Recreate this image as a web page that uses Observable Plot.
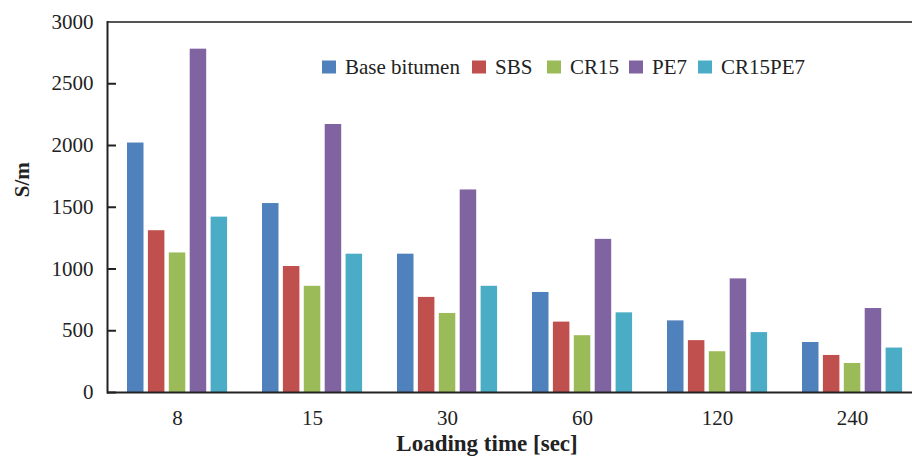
<!DOCTYPE html>
<html><head><meta charset="utf-8">
<script src="https://cdn.jsdelivr.net/npm/d3@7"></script>
<script src="https://cdn.jsdelivr.net/npm/@observablehq/plot@0.6"></script>
<style>
html,body{margin:0;padding:0;background:#fff;overflow:hidden}
#wrap{position:relative;width:912px;height:456px}
</style></head>
<body><div id="wrap"></div>
<script>
const groups = ["8", "15", "30", "60", "120", "240"];
const series = ["Base bitumen", "SBS", "CR15", "PE7", "CR15PE7"];
const colors = ["#4F81BD", "#C0504D", "#9BBB59", "#8064A2", "#4BACC6"];
const baseBitumen = [2020, 1530, 1120, 810, 580, 405];
const sbs = [1310, 1020, 770, 570, 420, 300];
const cr15 = [1130, 860, 640, 460, 330, 235];
const pe7 = [2780, 2170, 1640, 1240, 920, 680];
const cr15pe7 = [1420, 1120, 860, 645, 485, 360];
const yTicks = [0, 500, 1000, 1500, 2000, 2500, 3000];

const seriesValues = [baseBitumen, sbs, cr15, pe7, cr15pe7];
const table = series.map((s, i) => groups.map((g, j) => ({group: g, series: s, value: seriesValues[i][j]})));

const FONT = "'Liberation Serif', 'Times New Roman', serif";
const W = 912, H = 456, ML = 107, MB = 64, MT = 21.5;
const step = 135.6, pIn = 0.2625;
const band = step * (1 - pIn);      // group band width
const barStep = 20.9, barW = 16.5;  // sub-band layout inside group

const barMarks = table.map((rows, i) => Plot.barY(rows, {
  x: "group", y: "value", fill: colors[i],
  insetLeft: i * barStep,
  insetRight: band - i * barStep - barW
}));

const chart = Plot.plot({
  width: W, height: H,
  marginLeft: ML, marginRight: 0, marginTop: MT, marginBottom: MB,
  style: {fontFamily: FONT, fontSize: "21px", color: "#222", background: "#fff"},
  x: {type: "band", domain: groups, range: [ML, ML + step * groups.length], paddingInner: pIn, paddingOuter: pIn / 2, axis: null},
  y: {domain: [0, 3000], axis: null},
  marks: [
    ...barMarks,
    Plot.axisX(groups, {tickSize: 0, tickPadding: 18, label: null, fontSize: 21}),
    Plot.axisY(yTicks, {tickSize: -9, tickPadding: 23, strokeWidth: 2, label: null, fontSize: 21, tickFormat: d3.format("d")}),
    Plot.ruleY([3000], {stroke: "#555", strokeWidth: 2}),
    Plot.ruleY([0], {stroke: "#222", strokeWidth: 2}),
    Plot.frame({anchor: "left", stroke: "#222", strokeWidth: 2}),
    Plot.text(["S/m"], {frameAnchor: "left", dx: -85, dy: -10, rotate: -90, fontWeight: "bold", fontSize: 21, fill: "#222"}),
    Plot.text(["Loading time [sec]"], {frameAnchor: "bottom", dx: -23, dy: 58, fontWeight: "bold", fontSize: 23, fill: "#222"})
  ]
});

document.getElementById("wrap").appendChild(chart);

// legend drawn inside the SVG so it shares the chart's serif font
const legendLeft = [322, 472, 547, 629, 698];
const lg = d3.select(chart).append("g")
  .attr("font-family", FONT).attr("font-size", 21).attr("fill", "#222").attr("text-anchor", "start");
series.forEach((s, i) => {
  const g = lg.append("g").attr("transform", `translate(${legendLeft[i]},0)`);
  g.append("rect").attr("x", 0).attr("y", 60.5).attr("width", 14).attr("height", 13).attr("fill", colors[i]);
  g.append("text").attr("x", 23).attr("y", 74).attr("text-anchor", "start").text(s);
});
</script></body></html>
